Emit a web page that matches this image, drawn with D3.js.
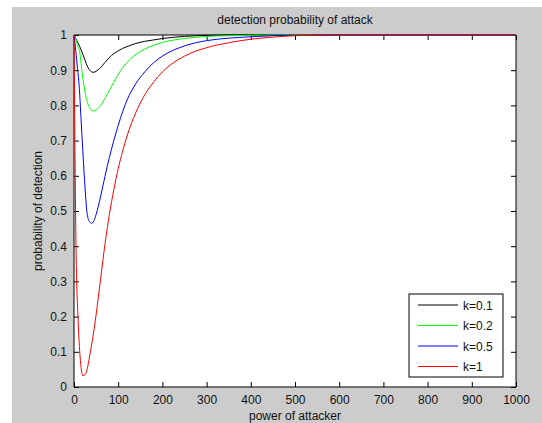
<!DOCTYPE html>
<html>
<head>
<meta charset="utf-8">
<script src="https://d3js.org/d3.v7.min.js"></script>
<style>
  body { margin: 0; background: #ffffff; }
  text { font-family: "Liberation Sans", Arial, sans-serif; }
</style>
</head>
<body>
<script>
// values
const power = [0, 2, 4, 6, 8, 10, 13, 16, 20, 25, 30, 35, 40, 45, 50, 60, 70, 80, 90, 100,
               110, 120, 140, 160, 180, 200, 250, 300, 350, 400, 450, 500, 600, 800, 1000];
const probK01 = [1, 0.996, 0.99, 0.985, 0.98, 0.975, 0.967, 0.958, 0.945, 0.928, 0.912, 0.901, 0.895, 0.894, 0.897, 0.907, 0.922, 0.936, 0.947, 0.955,
                 0.962, 0.967, 0.976, 0.982, 0.986, 0.99, 0.996, 0.999, 1, 1, 1, 1, 1, 1, 1];
const probK02 = [1, 0.995, 0.988, 0.98, 0.972, 0.963, 0.952, 0.918, 0.877, 0.838, 0.81, 0.794, 0.786, 0.784, 0.787, 0.8, 0.82, 0.843, 0.866, 0.888,
                 0.907, 0.922, 0.945, 0.96, 0.971, 0.979, 0.99, 0.996, 0.998, 0.999, 1, 1, 1, 1, 1];
const probK05 = [1, 0.98, 0.955, 0.93, 0.905, 0.88, 0.83, 0.76, 0.67, 0.565, 0.49, 0.47, 0.465, 0.472, 0.49, 0.54, 0.598, 0.652, 0.7, 0.743,
                 0.782, 0.815, 0.862, 0.895, 0.921, 0.94, 0.969, 0.984, 0.991, 0.995, 0.998, 0.999, 1, 1, 1];
const probK1  = [1, 0.7, 0.45, 0.3, 0.23, 0.17, 0.1, 0.055, 0.032, 0.035, 0.052, 0.085, 0.122, 0.16, 0.205, 0.305, 0.405, 0.49, 0.56, 0.62,
                 0.67, 0.713, 0.78, 0.83, 0.866, 0.895, 0.94, 0.964, 0.978, 0.988, 0.994, 0.998, 1, 1, 1];
const seriesNames = ["k=0.1", "k=0.2", "k=0.5", "k=1"];
const seriesColors = ["#000000", "#00ff00", "#0000ff", "#ff0000"];
const xTicks = [0, 100, 200, 300, 400, 500, 600, 700, 800, 900, 1000];
const yTicks = [0, 0.1, 0.2, 0.3, 0.4, 0.5, 0.6, 0.7, 0.8, 0.9, 1];

var width = 542, height = 423;
var pLeft = 74, pRight = 516, pTop = 35, pBottom = 387;

var svg = d3.select("body").append("svg")
    .attr("width", width)
    .attr("height", height);

// grey figure background
svg.append("rect")
    .attr("x", 12).attr("y", 7)
    .attr("width", width - 12).attr("height", height - 7)
    .attr("fill", "#cccccc");

svg.append("rect")
    .attr("x", pLeft).attr("y", pTop)
    .attr("width", pRight - pLeft).attr("height", pBottom - pTop)
    .attr("fill", "#ffffff");

var x = d3.scaleLinear().domain([0, 1000]).range([pLeft, pRight]);
var y = d3.scaleLinear().domain([0, 1]).range([pBottom, pTop]);

function styleAxis(g) {
    g.select(".domain").remove();
    g.selectAll(".tick line").attr("stroke", "#000");
    g.selectAll(".tick text").attr("fill", "#111").attr("font-size", 12)
        .attr("font-family", "Liberation Sans, Arial, sans-serif");
}

svg.append("g")
    .attr("transform", "translate(0," + pBottom + ")")
    .call(d3.axisBottom(x).tickValues(xTicks).tickSizeInner(-5).tickSizeOuter(0).tickPadding(8).tickFormat(d3.format("d")))
    .call(styleAxis);
svg.append("g")
    .attr("transform", "translate(0," + pTop + ")")
    .call(d3.axisTop(x).tickValues(xTicks).tickSizeInner(-5).tickSizeOuter(0).tickFormat(""))
    .call(styleAxis);
svg.append("g")
    .attr("transform", "translate(" + pLeft + ",0)")
    .call(d3.axisLeft(y).tickValues(yTicks).tickSizeInner(-5).tickSizeOuter(0).tickPadding(7).tickFormat(d3.format("~g")))
    .call(styleAxis);
svg.append("g")
    .attr("transform", "translate(" + pRight + ",0)")
    .call(d3.axisRight(y).tickValues(yTicks).tickSizeInner(-5).tickSizeOuter(0).tickFormat(""))
    .call(styleAxis);

// axes box
svg.append("path")
    .attr("d", "M" + pLeft + "," + pTop + "H" + pRight + "V" + pBottom + "H" + pLeft + "Z")
    .attr("fill", "none")
    .attr("stroke", "#000")
    .attr("stroke-width", 1);

var series = [probK01, probK02, probK05, probK1];
var line = d3.line()
    .x(function(d, i) { return x(power[i]); })
    .y(function(d) { return y(d); })
    .curve(d3.curveMonotoneX);

svg.append("g")
    .selectAll("path")
    .data(series)
    .enter()
    .append("path")
        .attr("d", line)
        .attr("fill", "none")
        .attr("stroke", function(d, i) { return seriesColors[i]; })
        .attr("stroke-width", 1);

// title and axis labels
svg.append("text")
    .attr("x", (pLeft + pRight) / 2).attr("y", 24)
    .attr("text-anchor", "middle").attr("font-size", 12).attr("fill", "#111")
    .text("detection probability of attack");
svg.append("text")
    .attr("x", (pLeft + pRight) / 2).attr("y", 420)
    .attr("text-anchor", "middle").attr("font-size", 12).attr("fill", "#111")
    .text("power of attacker");
svg.append("text")
    .attr("transform", "translate(42," + ((pTop + pBottom) / 2) + ") rotate(-90)")
    .attr("text-anchor", "middle").attr("font-size", 12).attr("fill", "#111")
    .text("probability of detection");

// legend
var legend = svg.append("g");
legend.append("rect")
    .attr("x", 409).attr("y", 294)
    .attr("width", 94).attr("height", 83)
    .attr("fill", "#ffffff").attr("stroke", "#000");

var rows = legend.selectAll("g.row")
    .data(seriesNames)
    .enter()
    .append("g")
    .attr("class", "row")
    .attr("transform", function(d, i) { return "translate(0," + (305 + i * 20.5) + ")"; });
rows.append("line")
    .attr("x1", 418).attr("x2", 458)
    .attr("stroke", function(d, i) { return seriesColors[i]; });
rows.append("text")
    .attr("x", 463).attr("y", 4.5)
    .attr("font-size", 12).attr("fill", "#111")
    .text(function(d) { return d; });
</script>
</body>
</html>
